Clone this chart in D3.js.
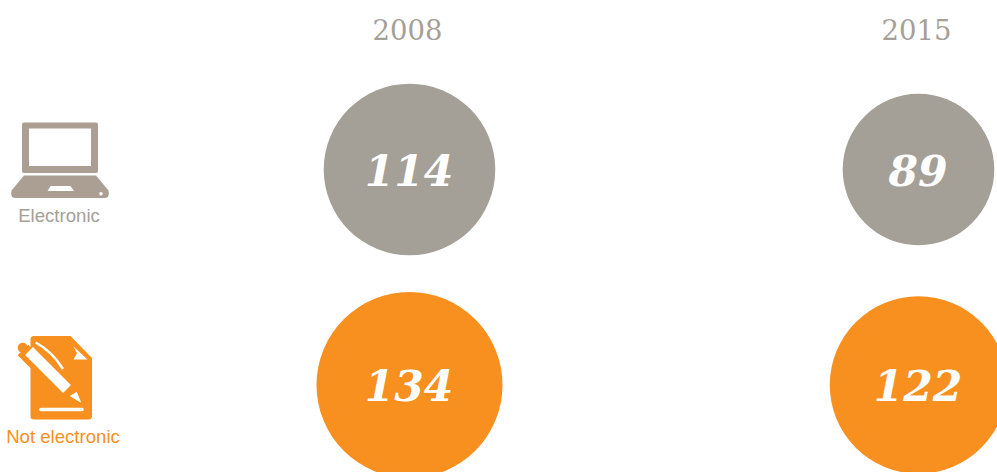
<!DOCTYPE html>
<html lang="en">
<head>
<meta charset="UTF-8">
<title>Electronic vs not electronic</title>
<script src="https://d3js.org/d3.v7.min.js"></script>
<style>
  html, body { margin: 0; padding: 0; background: #fff; overflow: hidden; }
  .year { font-family: "DejaVu Serif", serif; font-size: 27.5px; fill: #a5a097; text-anchor: middle; }
  .value { font-family: "DejaVu Serif", serif; font-weight: bold; font-style: italic; font-size: 42.5px; fill: #fff; text-anchor: middle; }
  .label { font-family: "Liberation Sans", sans-serif; font-size: 18.6px; text-anchor: middle; }
</style>
</head>
<body>
<script>
const years = ["2008", "2015"];
const categories = ["Electronic", "Not electronic"];
const electronicValues = [114, 89];
const notElectronicValues = [134, 122];

const grey = "#a5a097";
const orange = "#f7901e";
const iconGrey = "#ab9f94";

const width = 997, height = 472;
const svg = d3.select("body").append("svg")
  .attr("width", width).attr("height", height)
  .style("display", "block");

const x = d3.scalePoint().domain(years).range([409.5, 918.5]);
const y = d3.scalePoint().domain(categories).range([169.5, 385]);
// area is proportional to the value
const r = d3.scaleSqrt().domain([0, 134]).range([0, 93]);

const rows = [
  { cat: categories[0], color: grey, values: electronicValues },
  { cat: categories[1], color: orange, values: notElectronicValues }
];

svg.selectAll(".year").data(years).join("text")
  .attr("class", "year")
  .attr("x", d => x(d) - 2)
  .attr("y", 40)
  .text(d => d);

rows.forEach(row => {
  const g = svg.append("g");
  const cells = years.map((yr, i) => ({ yr, v: row.values[i] }));
  g.selectAll("circle").data(cells).join("circle")
    .attr("cx", d => x(d.yr))
    .attr("cy", y(row.cat))
    .attr("r", d => r(d.v))
    .attr("fill", row.color);
  g.selectAll("text").data(cells).join("text")
    .attr("class", "value")
    .attr("x", d => x(d.yr) - 0.5)
    .attr("y", y(row.cat) + 16)
    .text(d => d.v);
});

// laptop icon
const laptop = svg.append("g").attr("fill", iconGrey);
laptop.append("path").attr("fill-rule", "evenodd")
  .attr("d", "M24 122.5H96a2 2 0 0 1 2 2V171a2 2 0 0 1-2 2H24a2 2 0 0 1-2-2V124.5a2 2 0 0 1 2-2Z M29 128.5V166H91V128.5Z");
laptop.append("path").attr("fill-rule", "evenodd")
  .attr("d", "M24 175.5H96L108.5 190.5Q110 198 105 198H15Q10 198 11.5 190.5Z M50.5 186L47.5 191H74L70.5 186Z");
laptop.append("circle").attr("cx", 101).attr("cy", 193.7).attr("r", 1.8).attr("fill", "#fff");
svg.append("text").attr("class", "label")
  .attr("x", 59).attr("y", 222).attr("fill", grey).text(categories[0]);

// document and pen icon
const doc = svg.append("g");
doc.append("path").attr("fill", orange)
  .attr("d", "M34 336H70.5L92 358V416a3.5 3.5 0 0 1-3.5 3.5H34a3.5 3.5 0 0 1-3.5-3.5V339.5a3.5 3.5 0 0 1 3.5-3.5Z");
doc.append("path").attr("fill", "#fff").attr("d", "M73.5 346.5L87.5 359.5H73.5L77 353Z");
doc.append("line").attr("x1", 41).attr("y1", 409.5).attr("x2", 82).attr("y2", 409.5)
  .attr("stroke", "#fff").attr("stroke-width", 3.5).attr("stroke-linecap", "round");
doc.append("line").attr("x1", 23).attr("y1", 350).attr("x2", 64).attr("y2", 391)
  .attr("stroke", orange).attr("stroke-width", 15);
doc.append("line").attr("x1", 29).attr("y1", 351).attr("x2", 67).attr("y2", 389)
  .attr("stroke", "#fff").attr("stroke-width", 11);
doc.append("path").attr("fill", "none").attr("stroke", "#fff").attr("stroke-width", 2.5)
  .attr("d", "M35.7 342.5Q52.3 351.5 63 369");
doc.append("path").attr("fill", "#fff").attr("stroke", "#fff").attr("stroke-width", 1).attr("stroke-linejoin", "round")
  .attr("d", "M70.5 396L76.5 392.5L80.5 402Z");
doc.append("circle").attr("cx", 22.7).attr("cy", 347.7).attr("r", 5).attr("fill", orange);
svg.append("text").attr("class", "label")
  .attr("x", 63).attr("y", 443).attr("fill", orange).text(categories[1]);
</script>
</body>
</html>
